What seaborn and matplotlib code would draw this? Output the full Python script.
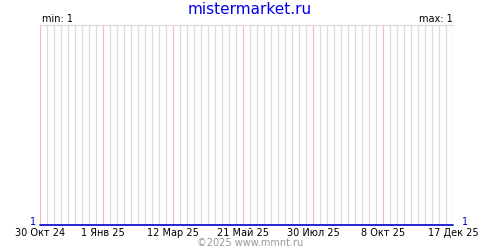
import matplotlib
matplotlib.use("Agg")
import matplotlib.pyplot as plt
import seaborn as sns
import pandas as pd

# Data
dates = ["2024-10-30", "2025-12-17"]
values = [1, 1]
tick_dates = ["2024-10-30", "2025-01-01", "2025-03-12", "2025-05-21",
              "2025-07-30", "2025-10-08", "2025-12-17"]
tick_labels = ["30 Окт 24", "1 Янв 25", "12 Мар 25", "21 Май 25",
               "30 Июл 25", "8 Окт 25", "17 Дек 25"]
title = "mistermarket.ru"
footer = "©2025 www.mmnt.ru"
min_label = "min: 1"
max_label = "max: 1"

sns.set_style("white")
plt.rcParams["font.family"] = ["DejaVu Sans"]

df = pd.DataFrame({"date": pd.to_datetime(dates), "value": values})

fig = plt.figure(figsize=(5, 2.5), dpi=100)
ax = fig.add_axes([40 / 500, 25 / 250, 413 / 500, 200 / 250])

start = df["date"].min()
end = df["date"].max()
major = pd.to_datetime(tick_dates)
week_lines = [d for d in pd.date_range(start, end, freq="7D") if d not in set(major)]

for d in week_lines:
    ax.axvline(d, color="#dcdcdc", lw=0.9, zorder=0)
for d in major:
    ax.axvline(d, color="#ffb8b8", lw=0.9, zorder=1)

sns.lineplot(data=df, x="date", y="value", ax=ax, color="#0000cc", lw=1.2,
             zorder=3, legend=False, clip_on=False)

ax.set_xlim(start, end)
ax.set_ylim(1, 2)
ax.set_xticks(major)
ax.set_xticklabels(tick_labels, fontsize=7, color="black")
ax.tick_params(axis="x", length=0, pad=2)
ax.set_yticks([])
ax.set_xlabel("")
ax.set_ylabel("")
for s in ["left", "right", "bottom"]:
    ax.spines[s].set_visible(False)
ax.spines["top"].set_color("#dcdcdc")
ax.spines["top"].set_linewidth(0.9)

fig.text(0.5, 1 - 9 / 250, title, ha="center", va="center", fontsize=11, color="#0000ee")
fig.text(42 / 500, 1 - 19 / 250, min_label, ha="left", va="center", fontsize=7, color="black")
fig.text(453 / 500, 1 - 19 / 250, max_label, ha="right", va="center", fontsize=7, color="black")
fig.text(33 / 500, 1 - 222 / 250, "1", ha="center", va="center", fontsize=7, color="#0000cc")
fig.text(465 / 500, 1 - 222 / 250, "1", ha="center", va="center", fontsize=7, color="#0000cc")
fig.text(250 / 500, 1 - 243 / 250, footer, ha="center", va="center", fontsize=7, color="#999999")

fig.savefig("out.png", dpi=100, facecolor="white")
